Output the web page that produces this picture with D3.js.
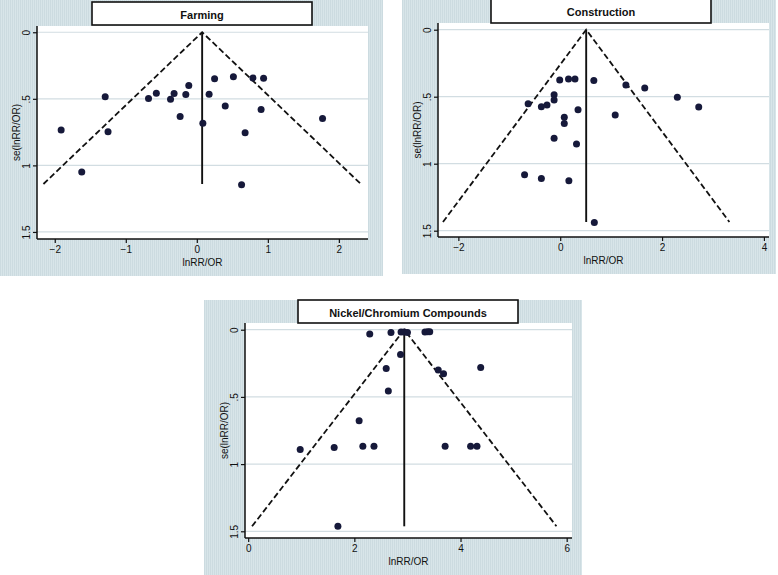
<!DOCTYPE html>
<html>
<head>
<meta charset="utf-8">
<script src="https://cdn.jsdelivr.net/npm/d3@7"></script>
<style>
  html, body { margin: 0; padding: 0; background: #ffffff; }
  svg { display: block; }
  text { font-family: "Liberation Sans", Arial, Helvetica, sans-serif; fill: #111; }
</style>
</head>
<body>
<svg id="chart" width="778" height="575"></svg>
<script>
// ---------------- data ----------------
const panelTitles = ["Farming", "Construction", "Nickel/Chromium Compounds"];

const farmingLnRR = [-1.91, -1.62, -1.29, -1.25, -0.68, -0.57, -0.37, -0.32, -0.235, -0.155, -0.113,
                     0.085, 0.173, 0.25, 0.40, 0.515, 0.63, 0.68, 0.79, 0.905, 0.94, 1.77];
const farmingSE   = [0.735, 1.05, 0.485, 0.748, 0.498, 0.458, 0.503, 0.46, 0.633, 0.468, 0.40,
                     0.683, 0.465, 0.35, 0.553, 0.335, 1.145, 0.755, 0.343, 0.58, 0.345, 0.648];

const constructionLnRR = [-0.01, 0.163, 0.29, 0.66, 1.29, 1.66, 2.30, 2.72, 1.08, -0.12, -0.12, -0.63,
                          -0.37, -0.26, 0.35, 0.08, 0.08, -0.12, 0.32, -0.70, -0.37, 0.17, 0.67];
const constructionSE   = [0.376, 0.368, 0.368, 0.38, 0.413, 0.435, 0.505, 0.577, 0.637, 0.485, 0.525, 0.552,
                          0.575, 0.562, 0.597, 0.654, 0.70, 0.81, 0.853, 1.082, 1.11, 1.127, 1.438];

const nickelLnRR = [2.29, 2.69, 2.88, 2.94, 3.00, 3.33, 3.38, 3.42, 2.87, 2.60, 3.58, 3.68, 4.38,
                    2.64, 2.09, 0.98, 1.62, 2.16, 2.37, 3.71, 4.19, 4.31, 1.69];
const nickelSE   = [0.031, 0.02, 0.017, 0.017, 0.02, 0.017, 0.015, 0.015, 0.184, 0.288, 0.30, 0.328, 0.281,
                    0.456, 0.677, 0.891, 0.876, 0.868, 0.868, 0.868, 0.868, 0.868, 1.463];

const pooledEstimates = [0.075, 0.51, 2.94];
const maxSE = [1.14, 1.435, 1.463];

const xTickValues = [[-2, -1, 0, 1, 2], [-2, 0, 2, 4], [0, 2, 4, 6]];
const yTickValues = [0, 0.5, 1, 1.5];
const yTickLabels = ["0", ".5", "1", "1.5"];
const xAxisTitle = "lnRR/OR";
const yAxisTitle = "se(lnRR/OR)";

const seriesX = [farmingLnRR, constructionLnRR, nickelLnRR];
const seriesSE = [farmingSE, constructionSE, nickelSE];

// ---------------- layout ----------------
const layouts = [
  { bg: {x: 0, y: 0, w: 383, h: 276}, plot: {l: 37, t: 26, r: 368, b: 239},
    xDom: [-2.25, 2.41], yDom: [-0.047, 1.553], title: {x: 92, y: 2, w: 220, h: 23} },
  { bg: {x: 402, y: 0, w: 374, h: 274}, plot: {l: 438, t: 23, r: 769, b: 237},
    xDom: [-2.40, 4.10], yDom: [-0.05, 1.547], title: {x: 491, y: -2, w: 220, h: 25} },
  { bg: {x: 204, y: 300, w: 378, h: 275}, plot: {l: 245, t: 323, r: 572, b: 538},
    xDom: [-0.06, 6.10], yDom: [-0.05, 1.55], title: {x: 298, y: 300, w: 220, h: 23} }
];

const svg = d3.select("#chart");
const defs = svg.append("defs");
const pat = defs.append("pattern").attr("id", "bgpat")
  .attr("patternUnits", "userSpaceOnUse").attr("width", 2).attr("height", 4);
pat.append("rect").attr("width", 2).attr("height", 4).attr("fill", "#d8e5e9");
pat.append("rect").attr("width", 1).attr("height", 4).attr("fill", "#ccdbe0");

layouts.forEach((L, i) => {
  const g = svg.append("g");
  const p = L.plot;
  // background
  g.append("rect").attr("x", L.bg.x).attr("y", L.bg.y).attr("width", L.bg.w).attr("height", L.bg.h)
    .attr("fill", "url(#bgpat)");
  // plot region
  g.append("rect").attr("x", p.l).attr("y", p.t).attr("width", p.r - p.l).attr("height", p.b - p.t)
    .attr("fill", "#ffffff");

  const x = d3.scaleLinear().domain(L.xDom).range([p.l, p.r]);
  const y = d3.scaleLinear().domain(L.yDom).range([p.t, p.b]);

  // gridlines
  g.append("g").selectAll("line").data(yTickValues).join("line")
    .attr("x1", p.l).attr("x2", p.r)
    .attr("y1", d => y(d)).attr("y2", d => y(d))
    .attr("stroke", "#d2dde2").attr("stroke-width", 1.2);

  // axes
  const yAxis = d3.axisLeft(y).tickValues(yTickValues).tickSize(4).tickPadding(3)
    .tickFormat((d, k) => yTickLabels[k]);
  const ya = g.append("g").attr("transform", `translate(${p.l},0)`).call(yAxis);
  ya.select(".domain").attr("d", `M0,${p.t}V${p.b}`).attr("stroke", "#111").attr("stroke-width", 1.5);
  ya.selectAll(".tick line").attr("stroke", "#111").attr("stroke-width", 1.2);
  ya.selectAll(".tick text")
    .attr("x", null).attr("dy", null)
    .attr("transform", "translate(-11,0) rotate(-90)")
    .attr("text-anchor", "middle").attr("dominant-baseline", "central")
    .style("font-size", "10px").style("font-family", "Liberation Sans, Arial, sans-serif").attr("fill", "#111");

  const xAxis = d3.axisBottom(x).tickValues(xTickValues[i]).tickSize(4).tickPadding(3)
    .tickFormat(d3.format("d"));
  const xa = g.append("g").attr("transform", `translate(0,${p.b})`).call(xAxis);
  xa.select(".domain").attr("d", `M${p.l},0H${p.r}`).attr("stroke", "#111").attr("stroke-width", 1.5);
  xa.selectAll(".tick line").attr("stroke", "#111").attr("stroke-width", 1.2);
  xa.selectAll(".tick text")
    .style("font-size", "10px").style("font-family", "Liberation Sans, Arial, sans-serif").attr("fill", "#111");

  // axis titles
  g.append("text").attr("x", (p.l + p.r) / 2).attr("y", p.b + 27)
    .attr("text-anchor", "middle").style("font-size", "10px").text(xAxisTitle);
  g.append("text").attr("transform", `translate(${p.l - 21},${(p.t + p.b) / 2}) rotate(-90)`)
    .attr("text-anchor", "middle").attr("dominant-baseline", "central")
    .style("font-size", "10px").text(yAxisTitle);

  // funnel
  const est = pooledEstimates[i], sm = maxSE[i];
  const funnel = [[est - 1.96 * sm, sm], [est, 0], [est + 1.96 * sm, sm]];
  g.append("path").datum(funnel)
    .attr("d", d3.line().x(d => x(d[0])).y(d => y(d[1])))
    .attr("fill", "none").attr("stroke", "#111").attr("stroke-width", 1.8)
    .attr("stroke-dasharray", "6,3");
  g.append("line").attr("x1", x(est)).attr("x2", x(est)).attr("y1", y(0)).attr("y2", y(sm))
    .attr("stroke", "#111").attr("stroke-width", 1.9);

  // points
  const pts = seriesX[i].map((v, k) => ({x: v, se: seriesSE[i][k]}));
  g.append("g").selectAll("circle").data(pts).join("circle")
    .attr("cx", d => x(d.x)).attr("cy", d => y(d.se)).attr("r", 3.5)
    .attr("fill", "#16193a");

  // title box
  g.append("rect").attr("x", L.title.x).attr("y", L.title.y).attr("width", L.title.w).attr("height", L.title.h)
    .attr("fill", "#ffffff").attr("stroke", "#111").attr("stroke-width", 1.6);
  g.append("text").attr("x", L.title.x + L.title.w / 2).attr("y", L.title.y + L.title.h / 2 + 1)
    .attr("text-anchor", "middle").attr("dominant-baseline", "central")
    .style("font-size", "11px").style("font-weight", "bold").text(panelTitles[i]);
});
</script>
</body>
</html>
